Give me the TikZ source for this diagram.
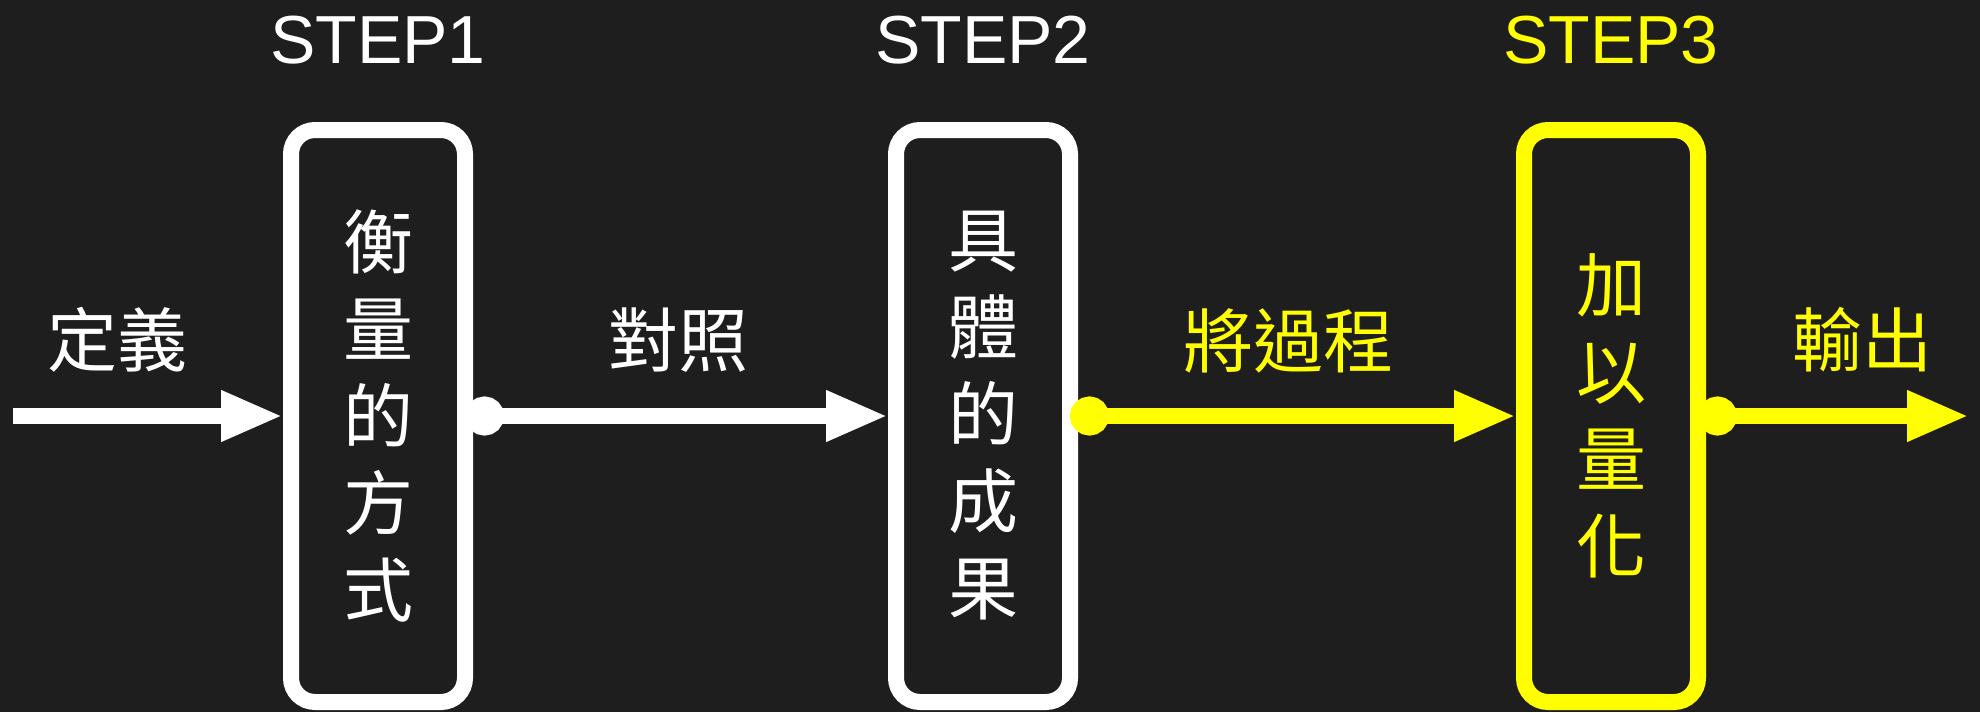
\documentclass[tikz,border=0pt]{standalone}
\usepackage{fontspec}
\setmainfont{Liberation Sans}
\newfontfamily\cjk{Noto Sans CJK TC}
\usetikzlibrary{arrows.meta}
\definecolor{bg}{RGB}{30,30,30}
\definecolor{hl}{RGB}{255,255,0}
\begin{document}
\begin{tikzpicture}[x=1pt,y=-1pt,
  stepbox/.style={draw, line width=16pt, rounded corners=24pt, minimum width=174pt,
    minimum height=572pt, inner sep=0pt, outer sep=0pt, align=center,
    font=\cjk\fontsize{70}{87}\selectfont},
  lbl/.style={font=\cjk\fontsize{70}{84}\selectfont, inner sep=0pt},
  hdr/.style={font=\fontsize{68}{80}\selectfont, anchor=base, inner sep=0pt},
  conn/.style={line width=16pt, {Circle[length=39pt]}-{Triangle[length=62pt,width=47pt]}, shorten >=8pt},
  inarrow/.style={line width=16pt, -{Triangle[length=62pt,width=47pt]}, shorten >=8pt},
  ]
\fill[bg] (0,0) rectangle (1980,712);
\useasboundingbox (0,0) rectangle (1980,712);

% headers
\node[hdr, text=white] (h1) at (378,63) {STEP1};
\node[hdr, text=white] (h2) at (983,63) {STEP2};
\node[hdr, text=hl] (h3) at (1611,63) {STEP3};

% boxes
\node[stepbox, draw=white, text=white] (b1) at (378,416) {衡\\量\\的\\方\\式};
\node[stepbox, draw=white, text=white] (b2) at (983,416) {具\\體\\的\\成\\果};
\node[stepbox, draw=hl, text=hl] (b3) at (1611,416) {加\\以\\量\\化};

% free ends
\coordinate (in) at (13,416);
\coordinate (out) at (1969,416);

% connectors
\draw[inarrow, white] (in) -- (b1.west);
\draw[conn, white] (b1.east) -- (b2.west);
\draw[conn, hl] (b2.east) -- (b3.west);
\draw[conn, hl, shorten >=0pt] (b3.east) -- (out);

% labels
\node[lbl, text=white] (l1) at (117,340) {定義};
\node[lbl, text=white] (l2) at (678,340) {對照};
\node[lbl, text=hl] (l3) at (1288,341) {將過程};
\node[lbl, text=hl] (l4) at (1862,340) {輸出};
\end{tikzpicture}
\end{document}
